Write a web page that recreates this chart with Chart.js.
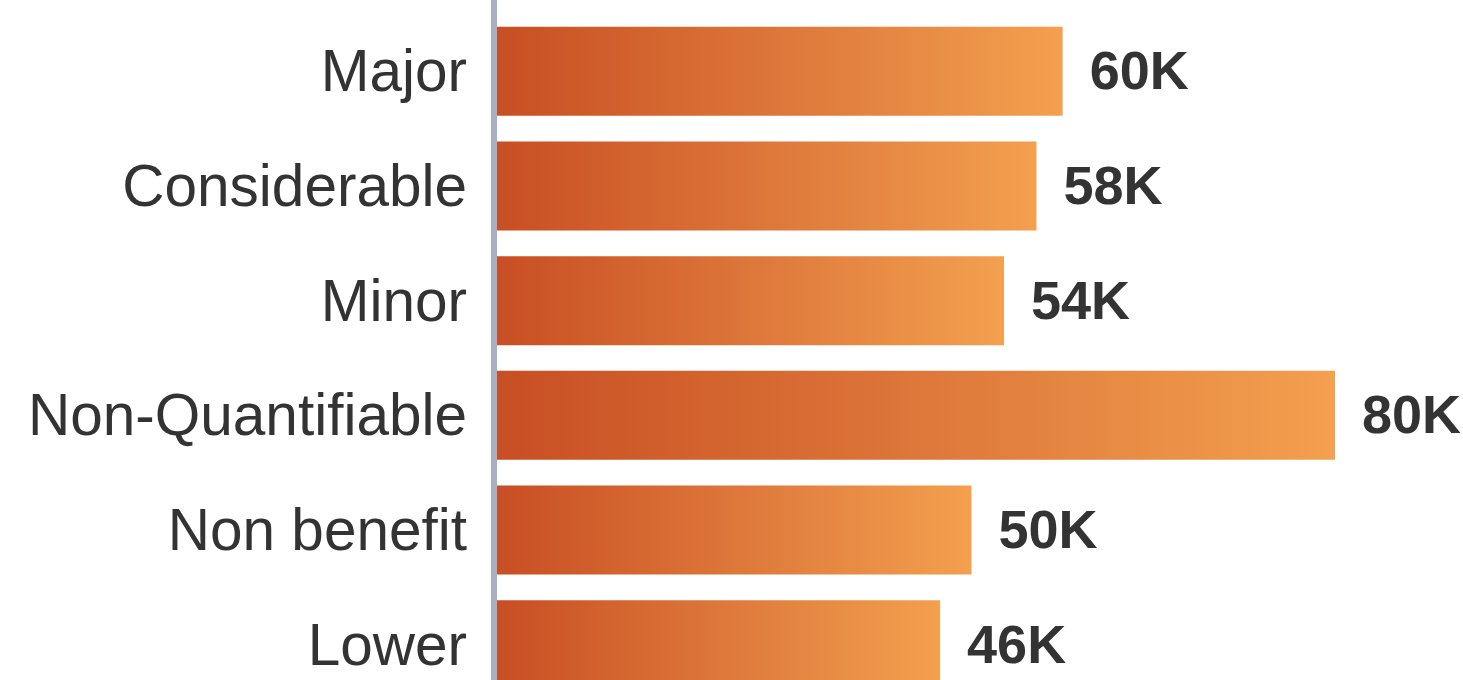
<!DOCTYPE html>
<html>
<head>
<meta charset="utf-8">
<script src="https://cdn.jsdelivr.net/npm/chart.js@4.4.0/dist/chart.umd.min.js"></script>
<style>
  html, body { margin: 0; padding: 0; background: #fff; overflow: hidden; }
  canvas { display: block; }
</style>
</head>
<body>
<canvas id="chart" width="1463" height="710"></canvas>
<script>
// categories, top to bottom
const categories = ['Major', 'Considerable', 'Minor', 'Non-Quantifiable', 'Non benefit', 'Lower']
// bar lengths in K (axis from 0)
const values = [54.0, 51.5, 48.4, 80.0, 45.3, 42.3]
// printed value labels
const valueLabels = ['60K', '58K', '54K', '80K', '50K', '46K']

const FONT = '"Liberation Sans", Arial, Helvetica, sans-serif'

//////// gradient for each bar, from axis to its own end
function barGradient(ctx) {
  const chart = ctx.chart
  const area = chart.chartArea
  if (!area || ctx.dataIndex === undefined) return '#DD7A3C'
  const x0 = chart.scales.x.getPixelForValue(0)
  const x1 = chart.scales.x.getPixelForValue(values[ctx.dataIndex])
  const g = chart.ctx.createLinearGradient(x0, 0, x1, 0)
  g.addColorStop(0, '#C84E23')
  g.addColorStop(0.5, '#DD773A')
  g.addColorStop(1, '#F3A04F')
  return g
}

//////// axis line + value labels
const extras = {
  id: 'extras',
  afterDatasetsDraw(chart) {
    const c = chart.ctx
    const left = chart.chartArea.left
    c.save()
    c.fillStyle = '#A9B0C2'
    c.fillRect(left - 6, 0, 6, chart.height)

    const meta = chart.getDatasetMeta(0)
    c.font = 'bold 54px ' + FONT
    c.fillStyle = '#333333'
    c.textBaseline = 'middle'
    c.textAlign = 'left'
    meta.data.forEach((bar, i) => {
      c.fillText(valueLabels[i], bar.x + 27, bar.y + 3)
    })
    c.restore()
  }
}

new Chart(document.getElementById('chart'), {
  type: 'bar',
  data: {
    labels: categories,
    datasets: [{
      data: values,
      backgroundColor: barGradient,
      borderWidth: 0,
      barPercentage: 0.776,
      categoryPercentage: 1
    }]
  },
  options: {
    indexAxis: 'y',
    responsive: false,
    animation: false,
    layout: { padding: { top: 14, bottom: 8, left: 0, right: 128 } },
    plugins: { legend: { display: false }, tooltip: { enabled: false } },
    scales: {
      x: { display: false, min: 0, max: 80 },
      y: {
        afterFit: (s) => { s.width = 497; s.paddingTop = 0; s.paddingBottom = 0 },
        grid: { display: false },
        border: { display: false },
        ticks: {
          padding: 22,
          labelOffset: 4,
          color: '#333333',
          font: { family: FONT, size: 58.5 }
        }
      }
    }
  },
  plugins: [extras]
})
</script>
</body>
</html>
